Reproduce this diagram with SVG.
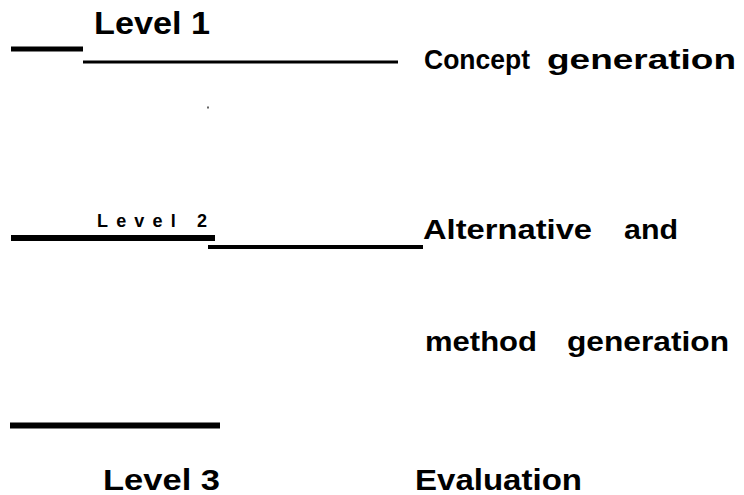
<svg xmlns="http://www.w3.org/2000/svg" width="744" height="495" viewBox="0 0 744 495">
<style>
.t{font-family:"Liberation Sans",Arial,sans-serif;font-weight:bold;fill:#000}
.bar{fill:#000}
</style>
<rect width="744" height="495" fill="#fff"/>
<g id="connectors">
<rect class="bar" x="11" y="46.5" width="72" height="5"/>
<rect class="bar" x="83" y="60.5" width="315" height="3"/>
<rect class="bar" x="11" y="235" width="204" height="6"/>
<rect class="bar" x="208" y="245" width="215" height="4"/>
<rect class="bar" x="10" y="422.5" width="210" height="6"/>
<rect x="207" y="106.5" width="2" height="2" fill="#666"/>
</g>
<g id="level1"><text class="t" x="94" y="34" font-size="31" textLength="116" lengthAdjust="spacingAndGlyphs">Level 1</text></g>
<g id="level2"><text class="t" x="97" y="227" font-size="18" textLength="110" lengthAdjust="spacing">Level 2</text></g>
<g id="level3"><text class="t" x="103" y="490" font-size="30" textLength="117" lengthAdjust="spacingAndGlyphs">Level 3</text></g>
<g id="concept">
<text class="t" x="424" y="69" font-size="28" textLength="106" lengthAdjust="spacingAndGlyphs">Concept</text>
<text class="t" x="547" y="69" font-size="28" textLength="189" lengthAdjust="spacingAndGlyphs">generation</text>
</g>
<g id="alternative">
<text class="t" x="423" y="239" font-size="28" textLength="169" lengthAdjust="spacingAndGlyphs">Alternative</text>
<text class="t" x="624" y="239" font-size="28" textLength="54" lengthAdjust="spacingAndGlyphs">and</text>
</g>
<g id="method">
<text class="t" x="425" y="351" font-size="28" textLength="112" lengthAdjust="spacingAndGlyphs">method</text>
<text class="t" x="567" y="351" font-size="28" textLength="162" lengthAdjust="spacingAndGlyphs">generation</text>
</g>
<g id="evaluation"><text class="t" x="415" y="490" font-size="30" textLength="167" lengthAdjust="spacingAndGlyphs">Evaluation</text></g>
</svg>
